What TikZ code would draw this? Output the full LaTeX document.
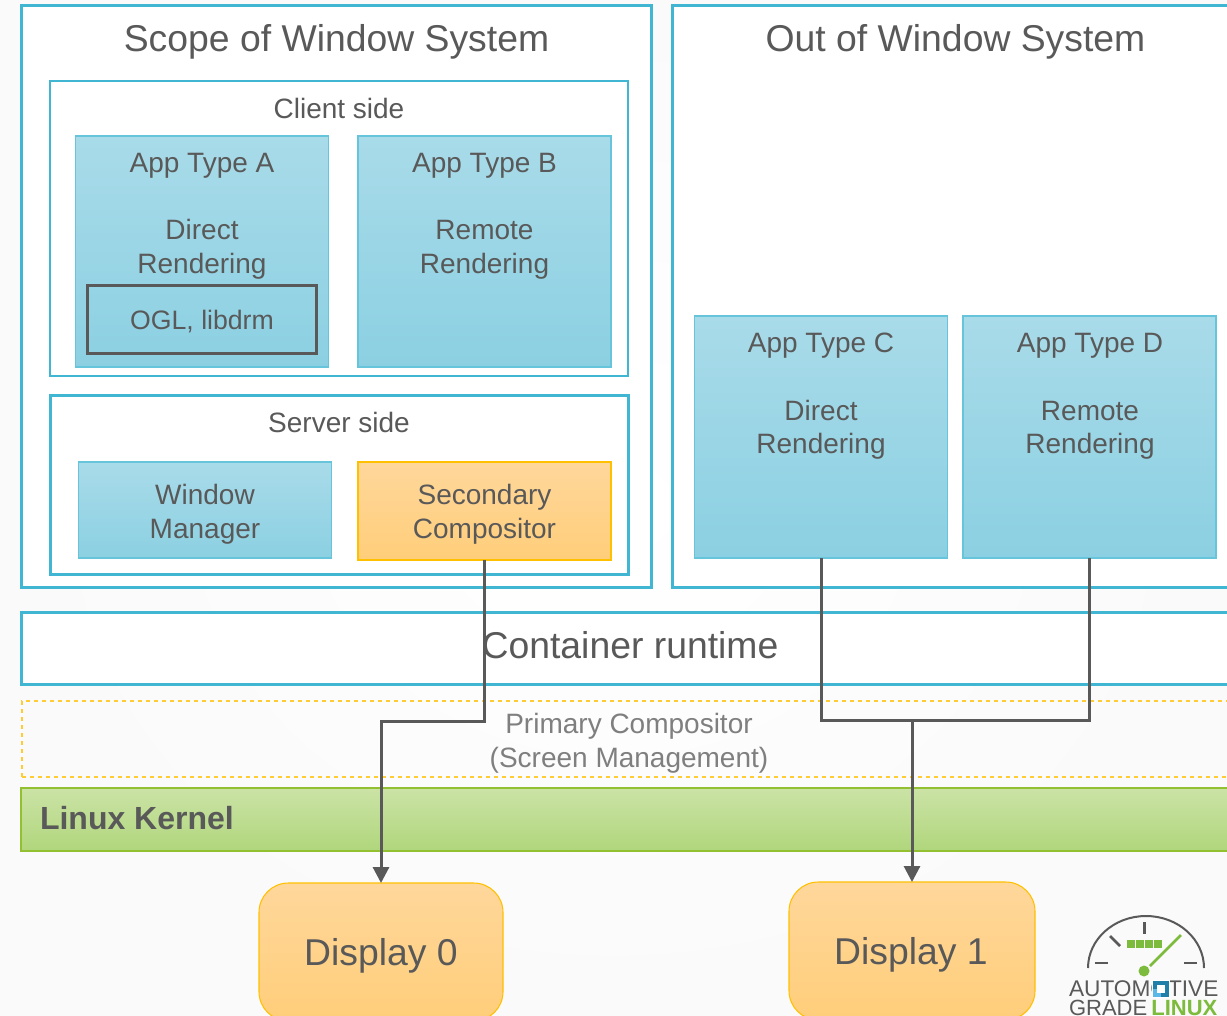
\documentclass[tikz,border=0pt]{standalone}
\usepackage{fontspec}
\setmainfont{Liberation Sans}
\usetikzlibrary{arrows.meta}

\definecolor{framecyan}{HTML}{41B6D2}
\definecolor{apptop}{HTML}{A9DBE9}
\definecolor{appbot}{HTML}{8BD0E2}
\definecolor{orangeline}{HTML}{FFC000}
\definecolor{orangetop}{HTML}{FFD79B}
\definecolor{orangebot}{HTML}{FFCE7A}
\definecolor{greentop}{HTML}{CBE3A6}
\definecolor{greenbot}{HTML}{B0D67C}
\definecolor{greenline}{HTML}{92C030}
\definecolor{inkgray}{HTML}{595959}
\definecolor{palegray}{HTML}{7F7F7F}
\definecolor{aglgreen}{HTML}{7DBB3C}
\definecolor{aglblue}{HTML}{1F7FA8}
\definecolor{agllight}{HTML}{5CB8E6}

\begin{document}
\begin{tikzpicture}[
  x = 0.75pt, y = -0.75pt,
  every node/.style = {outer sep = 0pt, inner sep = 0pt, text = inkgray, align = center,
                       font = \fontsize{21}{25.2}\selectfont},
  bigtext/.style = {font = \fontsize{28}{33}\selectfont},
  frame/.style = {draw = framecyan, line width = 2.25pt},
  thinframe/.style = {draw = framecyan, line width = 0.8pt},
  appbox/.style = {draw = framecyan!80, line width = 0.8pt, top color = apptop, bottom color = appbot,
                   minimum width = 189.75pt},
  orangebox/.style = {draw = orangeline, line width = 0.8pt, top color = orangetop, bottom color = orangebot},
  displaybox/.style = {orangebox, rounded corners = 22pt, minimum height = 103.5pt},
  wire/.style = {draw = inkgray, line width = 2.25pt},
  wirearrow/.style = {wire, -{Triangle[length = 12pt, width = 12pt]}},
  logoline/.style = {draw = inkgray, line width = 2pt},
  ]
  \useasboundingbox (0,0) rectangle (1227,1015);
  \clip (0,0) rectangle (1227,1015);
  \shade[inner color = white, outer color = black!2] (0,0) rectangle (1227,1015);

  \node[frame, fill = white, minimum width = 472.5pt, minimum height = 436.5pt] (scope) at (336,296) {};
  \node[frame, fill = white, minimum width = 426pt, minimum height = 436.5pt] (outside) at (956,296) {};
  \node[bigtext] (scopetitle) at (336.5,41.5) {Scope of Window System};
  \node[bigtext] (outsidetitle) at (955.5,41.5) {Out of Window System};

  \node[thinframe, fill = white, minimum width = 433.5pt, minimum height = 221.25pt] (client) at (339,228.5) {};
  \node (clienttitle) at (339,108) {Client side};
  \node[appbox, minimum height = 173.25pt] (appa) at (202,251.5) {};
  \node[appbox, minimum height = 173.25pt] (appb) at (484.5,251.5) {};
  \node (appatext) at (202,216) {App Type A\\ \\Direct\\Rendering};
  \node (appbtext) at (484.5,216) {App Type B\\ \\Remote\\Rendering};
  \node[draw = inkgray, line width = 2.25pt, minimum width = 172pt, minimum height = 51pt] (ogl) at (202,319) {};
  \node[font = \fontsize{20}{24}\selectfont] (ogltext) at (202,322) {OGL, libdrm};

  \node[frame, fill = white, minimum width = 433.5pt, minimum height = 134.25pt] (server) at (339,484.5) {};
  \node (servertitle) at (339,422) {Server side};
  \node[appbox, minimum height = 72pt] (manager) at (205,510) {};
  \node (managertext) at (205,514) {Window\\Manager};
  \node[orangebox, minimum width = 189.75pt, minimum height = 73.5pt] (secondary) at (484.5,511) {};
  \node (secondarytext) at (484.5,514.5) {Secondary\\Compositor};

  \node[appbox, minimum height = 181.5pt] (appc) at (821,437) {};
  \node[appbox, minimum height = 181.5pt] (appd) at (1089.5,437) {};
  \node (appctext) at (821,396.5) {App Type C\\ \\Direct\\Rendering};
  \node (appdtext) at (1090,396.5) {App Type D\\ \\Remote\\Rendering};

  \node[frame, fill = white, minimum width = 914.25pt, minimum height = 54pt] (container) at (630.5,648) {};
  \node[bigtext] (containertext) at (630,645) {Container runtime};
  \node[draw = orangeline!80, dashed, line width = 0.8pt, minimum width = 913.5pt, minimum height = 57pt] (primary) at (631,739) {};
  \node[text = palegray] (primarytext) at (629,743.5) {Primary Compositor\\(Screen Management)};
  \node[draw = greenline, line width = 0.8pt, top color = greentop, bottom color = greenbot, minimum width = 914.25pt, minimum height = 47.25pt] (kernel) at (630.5,819.5) {};
  \node[anchor = west, font = \fontsize{24}{28}\selectfont\bfseries] (kerneltext) at (40,818) {Linux Kernel};

  \node[displaybox, minimum width = 183pt] (display0) at (381,952) {};
  \node[displaybox, minimum width = 184.5pt] (display1) at (912,951) {};
  \node[bigtext] (display0text) at (381,956) {Display 0};
  \node[bigtext] (display1text) at (911,955) {Display 1};

  \coordinate (bend0) at (381,721);
  \coordinate (join1) at (912,720);
  \draw[wirearrow] (secondary.south) |- (bend0) -- (display0.north);
  \draw[wire] (appc.south) |- (join1);
  \draw[wire] (appd.south) |- (join1);
  \draw[wirearrow] (join1) -- (display1.north);

  % logo
  \draw[logoline, line width = 1.5pt] (1088,968) arc[start angle = 180, end angle = 360, x radius = 58, y radius = 52];
  \draw[logoline] (1144.5,922) -- (1144.5,934);
  \draw[logoline] (1110,936) -- (1120,946);
  \draw[logoline] (1095,963) -- (1108,963);
  \draw[logoline] (1184,963) -- (1197,963);
  \foreach \i in {0,1,2,3}
    \fill[aglgreen] ({1127+\i*9},940) rectangle ++(8,8);
  \draw[aglgreen, line width = 2pt] (1150,966) -- (1181,935);
  \fill[aglgreen] (1144,971) circle[radius = 5.5];
  \node[anchor = west, font = \fontsize{17}{17}\selectfont] (logotop) at (1069,989) {AUTOMOTIVE};
  \fill[white] (1152,980) rectangle (1170,998);
  \fill[aglblue] (1153,981) rectangle (1169,997);
  \fill[agllight] (1153,989) rectangle (1161,997);
  \fill[white] (1157,985) rectangle (1165,993);
  \node[anchor = west, font = \fontsize{16.5}{17}\selectfont] (logobottom) at (1069,1007.5) {GRADE\hspace{-1.5pt} \textcolor{aglgreen}{\bfseries LINUX}};
\end{tikzpicture}
\end{document}
